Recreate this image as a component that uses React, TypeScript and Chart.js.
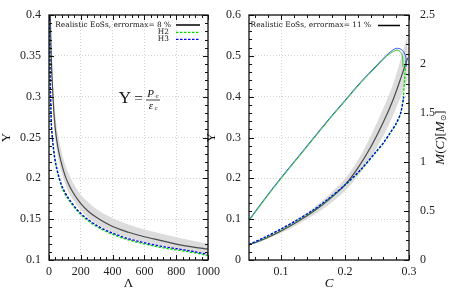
import React, { useEffect, useRef } from "react";
import { Chart, registerables } from "chart.js";

Chart.register(...registerables);

const FONT = "'Liberation Serif', 'DejaVu Serif', serif";
const LFONT = "'DejaVu Serif', 'Liberation Serif', serif";

// ---------- Left panel: Upsilon vs Lambda ----------
const lamReal = [8, 12, 16, 20, 25, 30, 40, 50, 60, 75, 100, 125, 150, 200, 250, 300, 400, 500, 600, 700, 800, 900, 1000];
const upsReal = [0.400, 0.365, 0.338, 0.320, 0.300, 0.283, 0.260, 0.245, 0.234, 0.221, 0.204, 0.192, 0.183, 0.169, 0.159, 0.152, 0.141, 0.134, 0.1285, 0.124, 0.1195, 0.116, 0.1134];
const upsRealHi = [0.430, 0.392, 0.362, 0.342, 0.320, 0.302, 0.278, 0.262, 0.250, 0.236, 0.218, 0.205, 0.195, 0.180, 0.170, 0.162, 0.151, 0.1435, 0.1372, 0.1325, 0.128, 0.124, 0.120];
const upsRealLo = [0.380, 0.347, 0.321, 0.304, 0.285, 0.269, 0.247, 0.233, 0.222, 0.210, 0.194, 0.182, 0.174, 0.161, 0.151, 0.144, 0.134, 0.127, 0.122, 0.118, 0.1135, 0.110, 0.1085];
const lamH = [4, 5, 7, 10, 14, 20, 30, 40, 52, 75, 100, 147, 200, 250, 321, 400, 500, 604, 700, 803, 900, 1000];
const upsH3 = [0.400, 0.370, 0.330, 0.300, 0.271, 0.253, 0.234, 0.221, 0.210, 0.194, 0.183, 0.169, 0.157, 0.149, 0.140, 0.133, 0.126, 0.121, 0.117, 0.1138, 0.1107, 0.107];
const upsH2 = [0.400, 0.368, 0.328, 0.298, 0.269, 0.251, 0.232, 0.219, 0.208, 0.192, 0.181, 0.1675, 0.1555, 0.1475, 0.1385, 0.1315, 0.1245, 0.1195, 0.1155, 0.1123, 0.1093, 0.1055];
const leftXTicks = [0, 200, 400, 600, 800, 1000];
const leftYTicks = [0.1, 0.15, 0.2, 0.25, 0.3, 0.35, 0.4];

// ---------- Right panel: Upsilon and M vs compactness C ----------
const cReal = [0.05, 0.075, 0.1, 0.125, 0.15, 0.175, 0.2, 0.22, 0.24, 0.26, 0.275, 0.288, 0.298];
const ups2Real = [0.037, 0.052, 0.071, 0.093, 0.118, 0.148, 0.184, 0.225, 0.276, 0.338, 0.392, 0.449, 0.495];
const ups2RealHi = [0.039, 0.055, 0.076, 0.100, 0.127, 0.160, 0.199, 0.244, 0.303, 0.372, 0.430, 0.498, 0.555];
const ups2RealLo = [0.035, 0.049, 0.066, 0.086, 0.109, 0.136, 0.169, 0.205, 0.249, 0.304, 0.354, 0.402, 0.440];
const cH3 = [0.05, 0.075, 0.1, 0.125, 0.15, 0.175, 0.2, 0.225, 0.25, 0.26, 0.27, 0.28, 0.287, 0.292];
const ups2H3 = [0.038, 0.056, 0.076, 0.098, 0.122, 0.151, 0.184, 0.222, 0.268, 0.287, 0.310, 0.335, 0.360, 0.400];
const cH2 = [0.05, 0.075, 0.1, 0.125, 0.15, 0.175, 0.2, 0.225, 0.25, 0.26, 0.27, 0.28, 0.287, 0.291, 0.293, 0.295];
const ups2H2 = [0.037, 0.055, 0.075, 0.097, 0.121, 0.150, 0.183, 0.221, 0.267, 0.286, 0.309, 0.333, 0.360, 0.396, 0.440, 0.490];
const cM3 = [0.05, 0.075, 0.1, 0.125, 0.15, 0.175, 0.2, 0.225, 0.25, 0.265, 0.278, 0.286, 0.292, 0.295, 0.2958, 0.2955];
const massH3 = [0.41, 0.63, 0.84, 1.04, 1.24, 1.44, 1.63, 1.82, 1.99, 2.09, 2.155, 2.155, 2.12, 2.07, 2.01, 1.97];
const cM2 = [0.05, 0.075, 0.1, 0.125, 0.15, 0.175, 0.2, 0.225, 0.25, 0.265, 0.276, 0.283, 0.288, 0.2902, 0.2905];
const massH2 = [0.40, 0.62, 0.83, 1.03, 1.23, 1.43, 1.62, 1.81, 1.98, 2.08, 2.13, 2.14, 2.11, 2.06, 1.97];
const rightXTicks = [0.1, 0.2, 0.3];
const rightYTicks = [0, 0.1, 0.2, 0.3, 0.4, 0.5, 0.6];
const rightY2Ticks = [0, 0.5, 1, 1.5, 2, 2.5];

const pts = (xs: number[], ys: number[]) => xs.map((x, i) => ({ x, y: ys[i] }));

const BAND = "#dcdcdc";
const BLACK = "#4a4a4a";
const GREEN_D = "#00dd00";
const BLUE_D = "#0000ee";
const GREEN_S = "#2cc42c";
const BLUE_S = "#3f55f2";

const framePlugin = {
  id: "frame",
  afterDraw(chart: any, _a: any, opts: any) {
    const ctx = chart.ctx;
    const ca = chart.chartArea;
    ctx.save();
    ctx.strokeStyle = "#111";
    ctx.lineWidth = 1;
    for (const s of opts.specs || []) {
      const scale = chart.scales[s.id];
      const start = Math.ceil(scale.min / s.minor - 1e-6);
      const end = Math.floor(scale.max / s.minor + 1e-6);
      for (let k = start; k <= end; k++) {
        const v = k * s.minor;
        const r = v / s.major;
        const isMajor = Math.abs(r - Math.round(r)) < 1e-6;
        const len = isMajor ? 5 : 3;
        const p = Math.round(scale.getPixelForValue(v)) + 0.5;
        ctx.beginPath();
        for (const side of s.sides) {
          if (side === "bottom") { ctx.moveTo(p, ca.bottom); ctx.lineTo(p, ca.bottom - len); }
          if (side === "top") { ctx.moveTo(p, ca.top); ctx.lineTo(p, ca.top + len); }
          if (side === "left") { ctx.moveTo(ca.left, p); ctx.lineTo(ca.left + len, p); }
          if (side === "right") { ctx.moveTo(ca.right, p); ctx.lineTo(ca.right - len, p); }
        }
        ctx.stroke();
      }
    }
    ctx.lineWidth = 1.3;
    ctx.strokeRect(ca.left, ca.top, ca.right - ca.left, ca.bottom - ca.top);
    ctx.restore();
  },
};

function text(ctx: any, s: string, x: number, y: number, font: string, align = "center", color = "#111") {
  ctx.font = font;
  ctx.fillStyle = color;
  ctx.textAlign = align;
  ctx.textBaseline = "middle";
  ctx.fillText(s, x, y);
}

function legendLine(ctx: any, x0: number, x1: number, y: number, color: string, dash: number[], w: number) {
  ctx.save();
  ctx.strokeStyle = color;
  ctx.lineWidth = w;
  ctx.setLineDash(dash);
  ctx.beginPath();
  ctx.moveTo(x0, y);
  ctx.lineTo(x1, y);
  ctx.stroke();
  ctx.restore();
}

const leftDeco = {
  id: "leftDeco",
  afterDraw(chart: any) {
    const ctx = chart.ctx;
    const ca = chart.chartArea;
    ctx.save();
    const lf = `7.4px ${LFONT}`;
    text(ctx, "Realistic EoSs, errormax= 8 %", ca.left + 122, ca.top + 10, lf, "right");
    legendLine(ctx, ca.right - 32, ca.right - 8, ca.top + 10, "#000", [], 1.5);
    text(ctx, "H2", ca.left + 120, ca.top + 17.3, lf, "right");
    legendLine(ctx, ca.right - 32, ca.right - 8, ca.top + 17.3, GREEN_D, [2.5, 1.5], 1.2);
    text(ctx, "H3", ca.left + 120, ca.top + 24.3, lf, "right");
    legendLine(ctx, ca.right - 32, ca.right - 8, ca.top + 24.3, BLUE_D, [2.5, 1.5], 1.2);
    const ey = ca.top + 84;
    text(ctx, "Υ", ca.left + 76, ey, `17px ${FONT}`);
    text(ctx, "=", ca.left + 89.5, ey, `15px ${FONT}`);
    const fx = ca.left + 103.5;
    text(ctx, "P", fx - 2, ey - 5, `italic 11px ${FONT}`);
    text(ctx, "c", fx + 4.5, ey - 2.5, `7px ${FONT}`);
    ctx.strokeStyle = "#111";
    ctx.lineWidth = 0.8;
    ctx.beginPath();
    ctx.moveTo(fx - 6.5, ey + 1);
    ctx.lineTo(fx + 7.5, ey + 1);
    ctx.stroke();
    text(ctx, "ε", fx - 1.5, ey + 7.5, `italic 11px ${FONT}`);
    text(ctx, "c", fx + 3.5, ey + 9.5, `7px ${FONT}`);
    text(ctx, "Λ", (ca.left + ca.right) / 2, ca.bottom + 24, `13px ${FONT}`);
    ctx.save();
    ctx.translate(7, (ca.top + ca.bottom) / 2);
    ctx.rotate(-Math.PI / 2);
    text(ctx, "Υ", 0, 0, `13px ${FONT}`);
    ctx.restore();
    ctx.restore();
  },
};

const rightDeco = {
  id: "rightDeco",
  afterDraw(chart: any) {
    const ctx = chart.ctx;
    const ca = chart.chartArea;
    ctx.save();
    text(ctx, "Realistic EoSs, errormax= 11 %", ca.left + 122, ca.top + 10.5, `7.4px ${LFONT}`, "right");
    legendLine(ctx, ca.right - 31, ca.right - 9, ca.top + 10.5, "#000", [], 1.5);
    text(ctx, "C", (ca.left + ca.right) / 2, ca.bottom + 24, `italic 13px ${FONT}`);
    ctx.save();
    ctx.translate(ca.left - 37, (ca.top + ca.bottom) / 2);
    ctx.rotate(-Math.PI / 2);
    text(ctx, "Υ", 0, 0, `13px ${FONT}`);
    ctx.restore();
    ctx.save();
    ctx.translate(ca.right + 32, (ca.top + ca.bottom) / 2);
    ctx.rotate(-Math.PI / 2);
    const parts: [string, string, number][] = [
      ["M", `italic 13px ${FONT}`, 0],
      ["(", `13px ${FONT}`, 0],
      ["C", `italic 13px ${FONT}`, 0],
      [")[", `13px ${FONT}`, 0],
      ["M", `italic 13px ${FONT}`, 0],
      ["⊙", `8px 'DejaVu Sans', ${FONT}`, 3],
      ["]", `13px ${FONT}`, 0],
    ];
    let total = 0;
    for (const [s, f] of parts) { ctx.font = f; total += ctx.measureText(s).width; }
    let x = -total / 2;
    for (const [s, f, dy] of parts) {
      ctx.font = f;
      const w = ctx.measureText(s).width;
      text(ctx, s, x, dy, f, "left");
      x += w;
    }
    ctx.restore();
    ctx.restore();
  },
};

const tickFont = { family: FONT, size: 12 };

function fixX(h: number) {
  return (s: any) => { s.height = h; s.paddingLeft = 0; s.paddingRight = 0; };
}
function fixY(w: number) {
  return (s: any) => { s.width = w; s.paddingTop = 0; s.paddingBottom = 0; };
}
function setTicks(vals: number[]) {
  return (s: any) => { s.ticks = vals.map((v) => ({ value: v })); };
}
const gridOpts = { color: "#c8c8c8", lineWidth: 0.8, drawTicks: false };
const borderOpts = { display: false, dash: [1, 2] };

export default function App() {
  const leftRef = useRef<HTMLCanvasElement>(null);
  const rightRef = useRef<HTMLCanvasElement>(null);

  useEffect(() => {
    const left = new Chart(leftRef.current as HTMLCanvasElement, {
      type: "line",
      data: {
        datasets: [
          { data: pts(lamReal, upsRealHi), order: 5, borderWidth: 0, pointRadius: 0, fill: false, cubicInterpolationMode: "monotone" },
          { data: pts(lamReal, upsRealLo), order: 4, borderWidth: 0, pointRadius: 0, fill: "-1", backgroundColor: BAND, cubicInterpolationMode: "monotone" },
          { data: pts(lamReal, upsReal), order: 3, borderColor: BLACK, borderWidth: 1.2, pointRadius: 0, cubicInterpolationMode: "monotone" },
          { data: pts(lamH, upsH2), order: 2, borderColor: GREEN_D, borderWidth: 1.3, borderDash: [2.5, 1.5], pointRadius: 0, cubicInterpolationMode: "monotone" },
          { data: pts(lamH, upsH3), order: 1, borderColor: BLUE_D, borderWidth: 1.3, borderDash: [2.5, 1.5], pointRadius: 0, cubicInterpolationMode: "monotone" },
        ] as any,
      },
      options: {
        animation: false,
        responsive: false,
        events: [],
        layout: { padding: { top: 15, right: 19, left: 0, bottom: 0 } },
        plugins: { legend: { display: false }, tooltip: { enabled: false }, frame: { specs: [
          { id: "x", minor: 40, major: 200, sides: ["bottom", "top"] },
          { id: "y", minor: 0.01, major: 0.05, sides: ["left", "right"] },
        ] } } as any,
        scales: {
          x: {
            type: "linear", min: 0, max: 1000,
            afterBuildTicks: setTicks(leftXTicks), afterFit: fixX(33),
            ticks: { font: tickFont, color: "#222", padding: 5, maxRotation: 0, autoSkip: false, callback: (v: any) => String(v) },
            grid: gridOpts, border: borderOpts,
          },
          y: {
            type: "linear", min: 0.1, max: 0.4,
            afterBuildTicks: setTicks(leftYTicks), afterFit: fixY(49),
            ticks: { font: tickFont, color: "#222", padding: 8, autoSkip: false, callback: (v: any) => String(v) },
            grid: gridOpts, border: borderOpts,
          },
        } as any,
      },
      plugins: [framePlugin, leftDeco],
    });

    const right = new Chart(rightRef.current as HTMLCanvasElement, {
      type: "line",
      data: {
        datasets: [
          { data: pts(cReal, ups2RealHi), order: 7, borderWidth: 0, pointRadius: 0, fill: false, yAxisID: "y", tension: 0.3 },
          { data: pts(cReal, ups2RealLo), order: 6, borderWidth: 0, pointRadius: 0, fill: "-1", backgroundColor: BAND, yAxisID: "y", tension: 0.3 },
          { data: pts(cReal, ups2Real), order: 5, borderColor: BLACK, borderWidth: 1.2, pointRadius: 0, yAxisID: "y", tension: 0.3 },
          { data: pts(cH2, ups2H2), order: 4, borderColor: GREEN_D, borderWidth: 1.3, borderDash: [2.5, 1.5], pointRadius: 0, yAxisID: "y", tension: 0.3 },
          { data: pts(cH3, ups2H3), order: 3, borderColor: BLUE_D, borderWidth: 1.3, borderDash: [2.5, 1.5], pointRadius: 0, yAxisID: "y", tension: 0.3 },
          { data: pts(cM3, massH3), order: 2, borderColor: BLUE_S, borderWidth: 1, pointRadius: 0, yAxisID: "y2", tension: 0.35 },
          { data: pts(cM2, massH2), order: 1, borderColor: GREEN_S, borderWidth: 1, pointRadius: 0, yAxisID: "y2", tension: 0.35 },
        ] as any,
      },
      options: {
        animation: false,
        responsive: false,
        events: [],
        layout: { padding: { top: 15, right: 0, left: 0, bottom: 0 } },
        plugins: { legend: { display: false }, tooltip: { enabled: false }, frame: { specs: [
          { id: "x", minor: 0.02, major: 0.1, sides: ["bottom", "top"] },
          { id: "y", minor: 0.02, major: 0.1, sides: ["left"] },
          { id: "y2", minor: 0.1, major: 0.5, sides: ["right"] },
        ] } } as any,
        scales: {
          x: {
            type: "linear", min: 0.05, max: 0.3,
            afterBuildTicks: setTicks(rightXTicks), afterFit: fixX(33),
            ticks: { font: tickFont, color: "#222", padding: 5, maxRotation: 0, autoSkip: false, callback: (v: any) => String(v) },
            grid: gridOpts, border: borderOpts,
          },
          y: {
            type: "linear", position: "left", min: 0, max: 0.6,
            afterBuildTicks: setTicks(rightYTicks), afterFit: fixY(49),
            ticks: { font: tickFont, color: "#222", padding: 8, autoSkip: false, callback: (v: any) => String(v) },
            grid: gridOpts, border: borderOpts,
          },
          y2: {
            type: "linear", position: "right", min: 0, max: 2.5,
            afterBuildTicks: setTicks(rightY2Ticks), afterFit: fixY(45),
            ticks: { font: tickFont, color: "#222", padding: 11, autoSkip: false, callback: (v: any) => String(v) },
            grid: { drawOnChartArea: false, drawTicks: false }, border: { display: false },
          },
        } as any,
      },
      plugins: [framePlugin, rightDeco],
    });

    return () => { left.destroy(); right.destroy(); };
  }, []);

  return (
    <div style={{ position: "absolute", left: 0, top: 0, width: 454, height: 293, background: "#fff" }}>
      <canvas ref={leftRef} width={227} height={293} style={{ position: "absolute", left: 0, top: 0, width: 227, height: 293 }} />
      <canvas ref={rightRef} width={254} height={293} style={{ position: "absolute", left: 200, top: 0, width: 254, height: 293 }} />
    </div>
  );
}
